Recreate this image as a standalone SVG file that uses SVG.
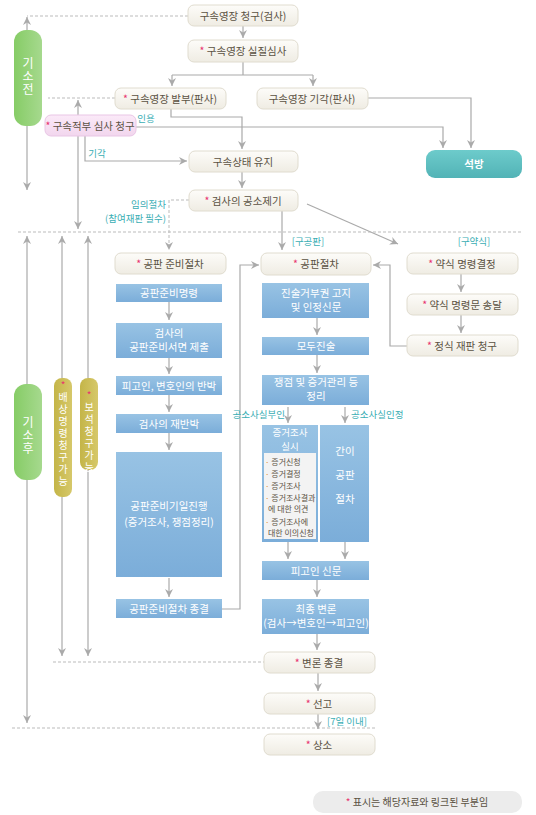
<svg xmlns="http://www.w3.org/2000/svg" width="536" height="815" viewBox="0 0 536 815">
<defs>
<linearGradient id="gCream" x1="0" y1="0" x2="0" y2="1"><stop offset="0" stop-color="#fdfcf9"/><stop offset="1" stop-color="#efece3"/></linearGradient>
<linearGradient id="gBlue" x1="0" y1="0" x2="0" y2="1"><stop offset="0" stop-color="#98c3e4"/><stop offset="1" stop-color="#7badd9"/></linearGradient>
<linearGradient id="gGreen" x1="0" y1="0" x2="1" y2="0"><stop offset="0" stop-color="#86cc66"/><stop offset="1" stop-color="#a6d98e"/></linearGradient>
<linearGradient id="gOlive" x1="0" y1="0" x2="1" y2="0"><stop offset="0" stop-color="#c4b548"/><stop offset="1" stop-color="#d6c86a"/></linearGradient>
<linearGradient id="gTeal" x1="0" y1="0" x2="0" y2="1"><stop offset="0" stop-color="#6dcbcb"/><stop offset="1" stop-color="#52b3b6"/></linearGradient>
<linearGradient id="gPink" x1="0" y1="0" x2="0" y2="1"><stop offset="0" stop-color="#fbeaf8"/><stop offset="1" stop-color="#f2d6ee"/></linearGradient>
<marker id="ah" markerUnits="userSpaceOnUse" markerWidth="9" markerHeight="9" refX="8" refY="4.5" orient="auto">
<path d="M0,0.5 L8,4.5 L0,8.5 L2.5,4.5 z" fill="#aaaaaa"/>
</marker>
</defs>
<style>
text{font-family:"Noto Sans CJK KR","Liberation Sans",sans-serif;font-size:10.5px;text-anchor:middle}
.cream{fill:url(#gCream);stroke:#e0dccf;stroke-width:1}
.blue{fill:url(#gBlue)}
.ct{fill:#5b5243}
.wt{fill:#ffffff}
.star{fill:#e8336e}
.teal{fill:#3aaeb4;font-size:9.5px}
.ln{fill:none;stroke:#aaaaaa;stroke-width:1.2}
.ar{marker-end:url(#ah)}
.dash{fill:none;stroke:#bbbbbb;stroke-width:1;stroke-dasharray:3,2}
.vt{fill:#ffffff;font-size:12px;writing-mode:vertical-rl;text-anchor:start;letter-spacing:1px}
.vs{fill:#ffffff;font-size:10px;writing-mode:vertical-rl;text-anchor:start;letter-spacing:2px}
.vstar{fill:#e8336e;font-size:10px}
.li{font-size:8px;text-anchor:start;fill:#5b5243}
.dot{fill:#e08a2a}
</style>

<g id="connectors">
<line class="dash" x1="188" y1="16" x2="27" y2="16"/>
<line class="ln ar" x1="27" y1="30" x2="27" y2="17"/>
<line class="ln ar" x1="27" y1="126" x2="27" y2="190"/>
<line class="ln ar" x1="243" y1="26" x2="243" y2="38"/>
<polyline class="ln" points="243,62 243,75"/>
<polyline class="ln ar" points="172,75 172,86"/>
<polyline class="ln" points="172,75 313,75"/>
<polyline class="ln ar" points="313,75 313,86"/>
<line class="dash" x1="115" y1="98" x2="48" y2="98"/>
<line class="ln ar" x1="78" y1="115" x2="78" y2="100"/>
<polyline class="ln ar" points="368,98 471,98 471,148"/>
<polyline class="ln ar" points="136,127 443,127 443,148"/>
<polyline class="ln ar" points="171,109 171,117 242,117 242,149"/>
<polyline class="ln ar" points="85,136 85,161 187,161"/>
<line class="ln ar" x1="78" y1="136" x2="78" y2="229"/>
<line class="ln ar" x1="242" y1="172" x2="242" y2="188"/>
<polyline class="dash ar" points="189,200 169,200 169,250"/>
<polyline class="ln ar" points="282,211 282,250"/>
<line class="ln ar" x1="307" y1="204" x2="398" y2="244"/>
<line class="dash" x1="18" y1="232" x2="522" y2="232"/>
<line class="ln ar" x1="27" y1="384" x2="27" y2="236"/>
<line class="ln ar" x1="62" y1="378" x2="62" y2="236"/>
<line class="ln ar" x1="88" y1="378" x2="88" y2="236"/>
<line class="ln ar" x1="27" y1="480" x2="27" y2="723"/>
<line class="ln ar" x1="62" y1="497" x2="62" y2="656"/>
<line class="ln ar" x1="88" y1="470" x2="88" y2="656"/>
<line class="dash" x1="53" y1="662" x2="264" y2="662"/>
<line class="dash" x1="12" y1="728" x2="375" y2="728"/>
<line class="ln ar" x1="169" y1="302" x2="169" y2="320"/>
<line class="ln ar" x1="169" y1="358" x2="169" y2="374"/>
<line class="ln ar" x1="169" y1="395" x2="169" y2="412"/>
<line class="ln ar" x1="169" y1="433" x2="169" y2="450"/>
<line class="ln ar" x1="169" y1="578" x2="169" y2="597"/>
<polyline class="ln ar" points="222,609 240,609 240,265 259,265"/>
<line class="ln ar" x1="317" y1="318" x2="317" y2="335"/>
<line class="ln ar" x1="317" y1="355" x2="317" y2="373"/>
<line class="ln ar" x1="288" y1="407" x2="288" y2="423"/>
<line class="ln ar" x1="345" y1="407" x2="345" y2="423"/>
<line class="ln ar" x1="288" y1="542" x2="288" y2="559"/>
<line class="ln ar" x1="345" y1="542" x2="345" y2="559"/>
<line class="ln ar" x1="317" y1="580" x2="317" y2="597"/>
<line class="ln ar" x1="317" y1="634" x2="317" y2="650"/>
<line class="ln ar" x1="318" y1="673" x2="318" y2="691"/>
<line class="ln ar" x1="318" y1="714" x2="318" y2="729"/>
<line class="ln ar" x1="461" y1="274" x2="461" y2="292"/>
<line class="ln ar" x1="461" y1="315" x2="461" y2="333"/>
<polyline class="ln ar" points="407,346 390,346 390,265 373,265"/>
</g>

<g id="labels">
<text class="teal" x="146" y="122">인용</text>
<text class="teal" x="97" y="157">기각</text>
<text class="teal" style="text-anchor:end"><tspan x="166" y="208">임의절차</tspan><tspan x="166" y="222">(참여재판 필수)</tspan></text>
<text class="teal" x="308" y="245">[구공판]</text>
<text class="teal" x="474" y="245">[구약식]</text>
<text class="teal" x="285" y="418" style="text-anchor:end">공소사실부인</text>
<text class="teal" x="351" y="418" style="text-anchor:start">공소사실인정</text>
<text class="teal" x="327" y="725" style="text-anchor:start">[7일 이내]</text>
</g>

<g id="n-before"><rect x="14" y="30" width="28" height="96" rx="12" fill="url(#gGreen)"/>
<text class="vt" x="28" y="57">기소전</text></g>
<g id="n-after"><rect x="14" y="384" width="28" height="96" rx="12" fill="url(#gGreen)"/>
<text class="vt" x="28" y="416">기소후</text></g>
<g id="n-baesang"><rect x="54" y="378" width="18" height="119" rx="8" fill="url(#gOlive)"/>
<text class="vstar" x="63" y="389">*</text>
<text class="vs" x="63" y="392">배상명령청구가능</text></g>
<g id="n-boseok"><rect x="80" y="378" width="18" height="92" rx="8" fill="url(#gOlive)"/>
<text class="vstar" x="89" y="399">*</text>
<text class="vs" x="89" y="402">보석청구가능</text></g>

<g id="n1"><rect class="cream" x="188" y="5" width="110" height="21" rx="6"/><text class="ct" x="243" y="19.5">구속영장 청구(검사)</text></g>
<g id="n2"><rect class="cream" x="188" y="40" width="110" height="22" rx="6"/><text class="ct" x="243" y="55"><tspan class="star">*</tspan> 구속영장 실질심사</text></g>
<g id="n3"><rect class="cream" x="115" y="88" width="111" height="21" rx="6"/><text class="ct" x="170" y="102.5"><tspan class="star">*</tspan> 구속영장 발부(판사)</text></g>
<g id="n4"><rect class="cream" x="257" y="88" width="111" height="21" rx="6"/><text class="ct" x="312" y="102.5">구속영장 기각(판사)</text></g>
<g id="n5"><rect x="45" y="115" width="91" height="21" rx="6" fill="url(#gPink)" stroke="#e9c6e5"/><text class="ct" x="90" y="129.5"><tspan class="star">*</tspan> 구속적부 심사 청구</text></g>
<g id="n6"><rect class="cream" x="189" y="151" width="109" height="21" rx="6"/><text class="ct" x="243" y="165.5">구속상태 유지</text></g>
<g id="n7"><rect class="cream" x="189" y="190" width="109" height="21" rx="6"/><text class="ct" x="243" y="204.5"><tspan class="star">*</tspan> 검사의 공소제기</text></g>
<g id="n8"><rect x="426" y="150" width="96" height="28" rx="9" fill="url(#gTeal)"/><text class="wt" x="474" y="168" style="font-weight:bold">석방</text></g>

<g id="p1"><rect class="cream" x="115" y="253" width="111" height="21" rx="6"/><text class="ct" x="170" y="267.5"><tspan class="star">*</tspan> 공판 준비절차</text></g>
<g id="p2"><rect class="blue" x="116" y="284" width="106" height="18"/><text class="wt" x="169" y="297">공판준비명령</text></g>
<g id="p3"><rect class="blue" x="116" y="323" width="106" height="35"/><text class="wt"><tspan x="169" y="337">검사의</tspan><tspan x="169" y="351">공판준비서면 제출</tspan></text></g>
<g id="p4"><rect class="blue" x="116" y="376" width="106" height="19"/><text class="wt" x="169" y="389.5">피고인, 변호인의 반박</text></g>
<g id="p5"><rect class="blue" x="116" y="414" width="106" height="19"/><text class="wt" x="169" y="427.5">검사의 재반박</text></g>
<g id="p6"><rect class="blue" x="116" y="452" width="106" height="125"/><text class="wt"><tspan x="169" y="510">공판준비기일진행</tspan><tspan x="169" y="526">(증거조사, 쟁점정리)</tspan></text></g>
<g id="p7"><rect class="blue" x="116" y="599" width="106" height="19"/><text class="wt" x="169" y="612.5">공판준비절차 종결</text></g>

<g id="t1"><rect class="cream" x="261" y="253" width="110" height="22" rx="6"/><text class="ct" x="316" y="268"><tspan class="star">*</tspan> 공판절차</text></g>
<g id="t2"><rect class="blue" x="262" y="283" width="107" height="35"/><text class="wt"><tspan x="316" y="297">진술거부권 고지</tspan><tspan x="316" y="311">및 인정신문</tspan></text></g>
<g id="t3"><rect class="blue" x="262" y="337" width="107" height="18"/><text class="wt" x="316" y="350">모두진술</text></g>
<g id="t4"><rect class="blue" x="262" y="375" width="107" height="30"/><text class="wt"><tspan x="316" y="386">쟁점 및 증거관리 등</tspan><tspan x="316" y="400">정리</tspan></text></g>
<g id="t5"><rect class="blue" x="262" y="425" width="56" height="117"/><text class="wt" style="font-size:9.5px"><tspan x="290" y="436">증거조사</tspan><tspan x="290" y="450">실시</tspan></text>
<rect x="264" y="453" width="52" height="86" fill="#f3f3f3"/>
<text class="li"><tspan x="265" y="465"><tspan class="dot">·</tspan> 증거신청</tspan><tspan x="265" y="477"><tspan class="dot">·</tspan> 증거결정</tspan><tspan x="265" y="489"><tspan class="dot">·</tspan> 증거조사</tspan><tspan x="265" y="501"><tspan class="dot">·</tspan> 증거조사결과</tspan><tspan x="268" y="512">에 대한 의견</tspan><tspan x="265" y="525"><tspan class="dot">·</tspan> 증거조사에</tspan><tspan x="268" y="536">대한 이의신청</tspan></text></g>
<g id="t6"><rect class="blue" x="320" y="425" width="49" height="117"/><text class="wt" x="345" y="455">간이</text><text class="wt" x="345" y="479">공판</text><text class="wt" x="345" y="503">절차</text></g>
<g id="t7"><rect class="blue" x="262" y="561" width="107" height="19"/><text class="wt" x="316" y="574.5">피고인 신문</text></g>
<g id="t8"><rect class="blue" x="262" y="599" width="107" height="35"/><text class="wt"><tspan x="316" y="613">최종 변론</tspan><tspan x="316" y="627">(검사→변호인→피고인)</tspan></text></g>
<g id="t9"><rect class="cream" x="264" y="652" width="111" height="21" rx="6"/><text class="ct" x="319" y="666.5"><tspan class="star">*</tspan> 변론 종결</text></g>
<g id="t10"><rect class="cream" x="264" y="693" width="111" height="21" rx="6"/><text class="ct" x="319" y="707.5"><tspan class="star">*</tspan> 선고</text></g>
<g id="t11"><rect class="cream" x="264" y="734" width="111" height="21" rx="6"/><text class="ct" x="319" y="748.5"><tspan class="star">*</tspan> 상소</text></g>

<g id="s1"><rect class="cream" x="407" y="253" width="111" height="21" rx="6"/><text class="ct" x="462" y="267.5"><tspan class="star">*</tspan> 약식 명령결정</text></g>
<g id="s2"><rect class="cream" x="407" y="294" width="111" height="21" rx="6"/><text class="ct" x="462" y="308.5"><tspan class="star">*</tspan> 약식 명령문 송달</text></g>
<g id="s3"><rect class="cream" x="407" y="335" width="111" height="21" rx="6"/><text class="ct" x="462" y="349.5"><tspan class="star">*</tspan> 정식 재판 청구</text></g>

<g id="legend"><rect x="313" y="791" width="209" height="22" rx="10" fill="#ececec"/><text class="ct" x="417" y="805.5" style="font-size:10px"><tspan class="star">*</tspan> 표시는 해당자료와 링크된 부분임</text></g>
</svg>
